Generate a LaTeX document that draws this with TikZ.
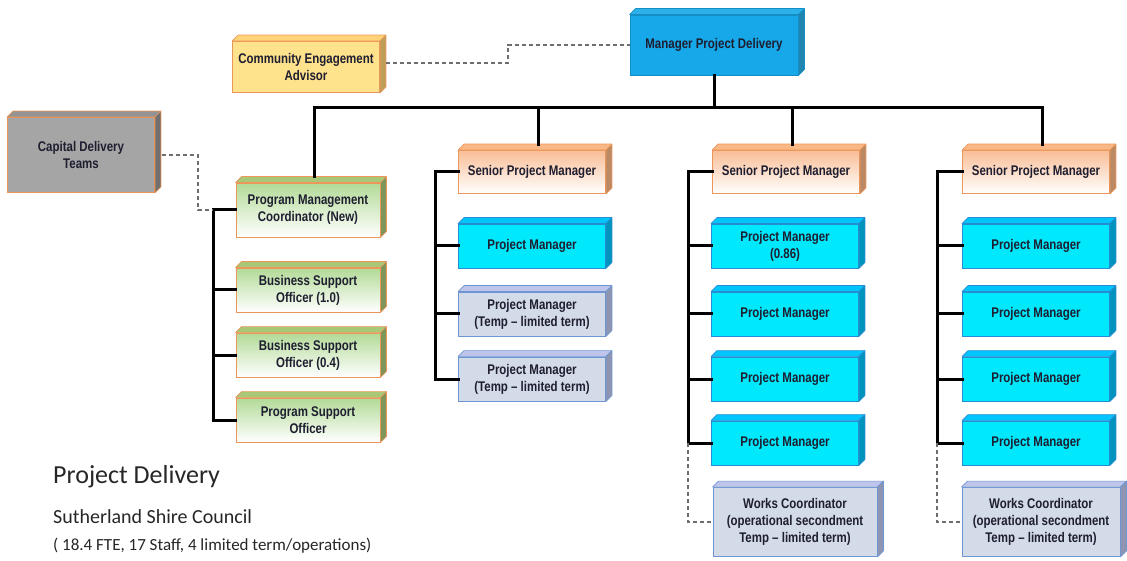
\documentclass[tikz,border=0pt]{standalone}
\usepackage{fontspec}
\setmainfont{Carlito}
\newfontfamily\boxfont[FakeStretch=0.82]{Liberation Sans}
\usetikzlibrary{positioning}

\definecolor{boxtext}{RGB}{30,30,48}
\definecolor{mpdblue}{RGB}{22,168,232}
\definecolor{advisorfill}{RGB}{255,226,140}
\definecolor{orangeline}{RGB}{236,150,90}
\definecolor{teamgray}{RGB}{165,165,165}
\definecolor{greenfill}{RGB}{178,218,150}
\definecolor{seniorfill}{RGB}{249,190,150}
\definecolor{pmcyan}{RGB}{0,232,252}
\definecolor{pmline}{RGB}{40,140,210}
\definecolor{tempfill}{RGB}{212,219,232}
\definecolor{templine}{RGB}{110,150,210}
\definecolor{linkgray}{RGB}{110,110,110}

% 3d faces of a box: node, face colour, border colour
\newcommand\boxfaces[3]{%
  \filldraw[fill=#2,draw=#3,line width=0.7pt,line join=round]
    (#1.north west) -- ++(6pt,6pt) -- ([shift={(6pt,6pt)}]#1.north east) -- (#1.north east) -- cycle;
  \filldraw[fill=#2!75!black,draw=#3,line width=0.7pt,line join=round]
    (#1.north east) -- ++(6pt,6pt) -- ([shift={(6pt,6pt)}]#1.south east) -- (#1.south east) -- cycle;}

\tikzset{
  unit/.style={draw, line width=0.8pt, align=center, text=boxtext, inner sep=2pt,
    minimum width=147pt, minimum height=44pt,
    font=\boxfont\bfseries\fontsize{14}{17}\selectfont},
  mgrbox/.style={unit, fill=mpdblue, draw=mpdblue!85!black},
  advisorbox/.style={unit, fill=advisorfill, draw=orangeline},
  teambox/.style={unit, fill=teamgray, draw=orangeline},
  greenbox/.style={unit, top color=greenfill, bottom color=white, draw=orangeline},
  seniorbox/.style={unit, top color=seniorfill, bottom color=white, draw=orangeline},
  pmbox/.style={unit, fill=pmcyan, draw=pmline},
  tempbox/.style={unit, fill=tempfill, draw=templine},
  org/.style={line width=3pt, line cap=rect},
  liaison/.style={draw=linkgray, line width=1.2pt, dash pattern=on 4pt off 3pt},
  caption/.style={anchor=base west, inner sep=0pt, text=black!85}
}

\begin{document}
\begin{tikzpicture}[x=1pt, y=-1pt]
\useasboundingbox (0,0) rectangle (1127,561);

% connectors
\coordinate (busL) at (315,108);
\coordinate (busR) at (1042,108);
\coordinate (spA) at (213,210);
\coordinate (spB) at (435,172);
\coordinate (spC) at (688,172);
\coordinate (spD) at (937,172);
\coordinate (ceaK) at (508,45);

% boxes
\node[mgrbox, minimum width=168pt, minimum height=60pt] (mpd) at (714,45) {Manager Project Delivery};
\node[advisorbox, minimum height=51pt] (cea) at (306,67) {Community Engagement\\Advisor};
\node[teambox, minimum height=75pt] (cdt) at (81,155) {Capital Delivery\\Teams};

\node[greenbox, minimum width=144pt, minimum height=54pt] (pmc) at (308,210) {Program Management\\Coordinator (New)};
\node[greenbox, minimum width=144pt] (bsoA) at (308,290) {Business Support\\Officer (1.0)};
\node[greenbox, minimum width=144pt] (bsoB) at (308,355) {Business Support\\Officer (0.4)};
\node[greenbox, minimum width=144pt] (pso) at (308,420) {Program Support\\Officer};

\node[seniorbox, minimum height=43pt] (spmA) at (532,172) {Senior Project Manager};
\node[pmbox] (pmA) at (532,246) {Project Manager};
\node[tempbox] (tmpA) at (532,314) {Project Manager\\(Temp – limited term)};
\node[tempbox] (tmpB) at (532,379) {Project Manager\\(Temp – limited term)};

\node[seniorbox, minimum height=43pt] (spmB) at (786,172) {Senior Project Manager};
\node[pmbox] (pmB1) at (785,246) {Project Manager\\(0.86)};
\node[pmbox] (pmB2) at (785,314) {Project Manager};
\node[pmbox] (pmB3) at (785,379) {Project Manager};
\node[pmbox] (pmB4) at (785,443) {Project Manager};
\node[tempbox, minimum width=164pt, minimum height=69pt] (wcB) at (795,522) {Works Coordinator\\(operational secondment\\Temp – limited term)};

\node[seniorbox, minimum height=43pt] (spmC) at (1036,172) {Senior Project Manager};
\node[pmbox] (pmC1) at (1036,246) {Project Manager};
\node[pmbox] (pmC2) at (1036,314) {Project Manager};
\node[pmbox] (pmC3) at (1036,379) {Project Manager};
\node[pmbox] (pmC4) at (1036,443) {Project Manager};
\node[tempbox, minimum width=158pt, minimum height=69pt] (wcC) at (1041,522) {Works Coordinator\\(operational secondment\\Temp – limited term)};

\foreach \n in {mpd} \boxfaces{\n}{mpdblue!90!white}{mpdblue!85!black};
\foreach \n in {cea} \boxfaces{\n}{advisorfill!85!orange}{orangeline};
\foreach \n in {cdt} \boxfaces{\n}{teamgray!90!black}{orangeline};
\foreach \n in {pmc,bsoA,bsoB,pso} \boxfaces{\n}{greenfill!80!olive}{orangeline};
\foreach \n in {spmA,spmB,spmC} \boxfaces{\n}{seniorfill!90!orange}{orangeline};
\foreach \n in {pmA,pmB1,pmB2,pmB3,pmB4,pmC1,pmC2,pmC3,pmC4} \boxfaces{\n}{pmcyan!85!blue}{pmline};
\foreach \n in {tmpA,tmpB,wcB,wcC} \boxfaces{\n}{tempfill!90!blue}{templine};

% reporting lines
\draw[org] (busL) -- (busR);
\draw[org] (mpd.south) -- (mpd.south |- busL);
\foreach \n in {pmc,spmA,spmB,spmC}
  \draw[org] ([shift={(6pt,6pt)}]\n.north) -- ([xshift=6pt]\n.north |- busL);

\draw[org] (pmc.west) -- (spA) |- (pso.west);
\foreach \n in {bsoA,bsoB} \draw[org] (\n.west) -- (\n.west -| spA);
\draw[org] (spmA.west) -- (spB) |- (tmpB.west);
\foreach \n in {pmA,tmpA} \draw[org] (\n.west) -- (\n.west -| spB);
\draw[org] (spmB.west) -- (spC) |- (pmB4.west);
\foreach \n in {pmB1,pmB2,pmB3} \draw[org] (\n.west) -- (\n.west -| spC);
\draw[org] (spmC.west) -- (spD) |- (pmC4.west);
\foreach \n in {pmC1,pmC2,pmC3} \draw[org] (\n.west) -- (\n.west -| spD);

% dotted lines
\draw[liaison] ([shift={(6pt,4pt)}]cea.east) -| (ceaK) -- (mpd.west);
\draw[liaison] ([xshift=7pt]cdt.east) -| ([xshift=-15pt]spA) -- (spA);
\draw[liaison] (pmB4.west -| spC) |- (wcB.west);
\draw[liaison] (pmC4.west -| spD) |- (wcC.west);

% title
\node[caption, font=\fontsize{26}{30}\selectfont] (title) at (53,483) {Project Delivery};
\node[caption, font=\fontsize{20}{24}\selectfont] (council) at (53,523) {Sutherland Shire Council};
\node[caption, font=\fontsize{17}{20}\selectfont] (staff) at (53,550) {( 18.4 FTE, 17 Staff, 4 limited term/operations)};
\end{tikzpicture}
\end{document}
